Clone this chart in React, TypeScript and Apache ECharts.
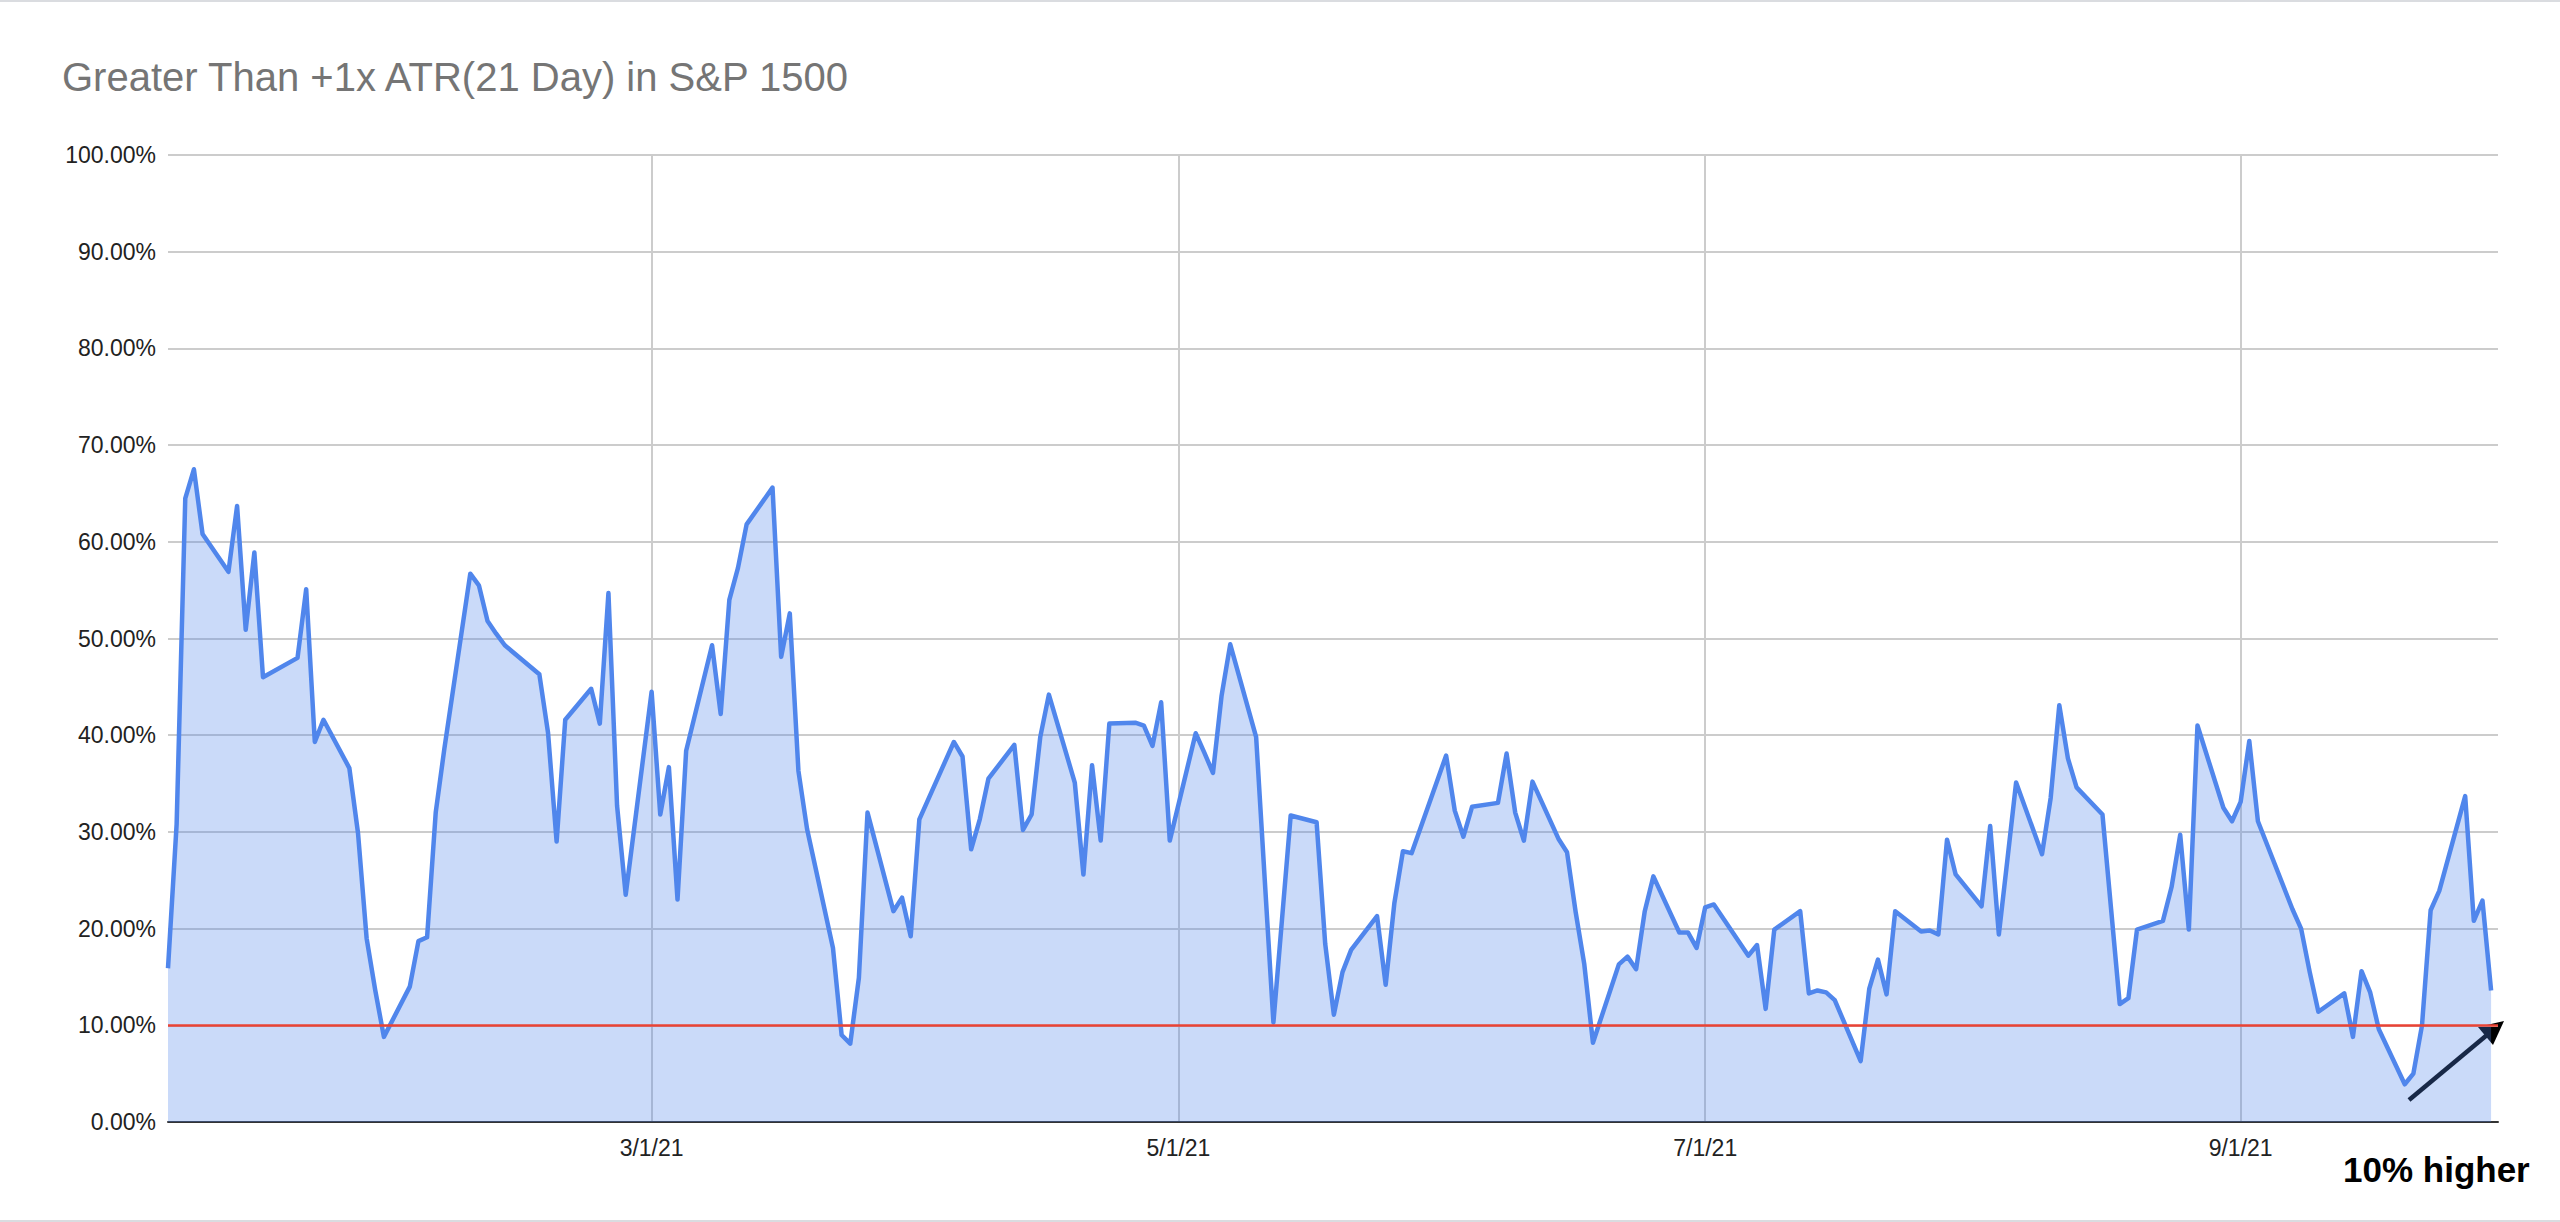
import React, { useEffect, useRef } from 'react';
import * as echarts from 'echarts';

const TITLE = 'Greater Than +1x ATR(21 Day) in S&P 1500';
const ANNOTATION = '10% higher';
const THRESHOLD = 10;

const dates = [
  '2021-01-04','2021-01-05','2021-01-06','2021-01-07','2021-01-08',
  '2021-01-11','2021-01-12','2021-01-13','2021-01-14','2021-01-15',
  '2021-01-19','2021-01-20','2021-01-21','2021-01-22',
  '2021-01-25','2021-01-26','2021-01-27','2021-01-28','2021-01-29',
  '2021-02-01','2021-02-02','2021-02-03','2021-02-04','2021-02-05',
  '2021-02-08','2021-02-09','2021-02-10','2021-02-11','2021-02-12',
  '2021-02-16','2021-02-17','2021-02-18','2021-02-19',
  '2021-02-22','2021-02-23','2021-02-24','2021-02-25','2021-02-26',
  '2021-03-01','2021-03-02','2021-03-03','2021-03-04','2021-03-05',
  '2021-03-08','2021-03-09','2021-03-10','2021-03-11','2021-03-12',
  '2021-03-15','2021-03-16','2021-03-17','2021-03-18','2021-03-19',
  '2021-03-22','2021-03-23','2021-03-24','2021-03-25','2021-03-26',
  '2021-03-29','2021-03-30','2021-03-31','2021-04-01',
  '2021-04-05','2021-04-06','2021-04-07','2021-04-08','2021-04-09',
  '2021-04-12','2021-04-13','2021-04-14','2021-04-15','2021-04-16',
  '2021-04-19','2021-04-20','2021-04-21','2021-04-22','2021-04-23',
  '2021-04-26','2021-04-27','2021-04-28','2021-04-29','2021-04-30',
  '2021-05-03','2021-05-04','2021-05-05','2021-05-06','2021-05-07',
  '2021-05-10','2021-05-11','2021-05-12','2021-05-13','2021-05-14',
  '2021-05-17','2021-05-18','2021-05-19','2021-05-20','2021-05-21',
  '2021-05-24','2021-05-25','2021-05-26','2021-05-27','2021-05-28',
  '2021-06-01','2021-06-02','2021-06-03','2021-06-04',
  '2021-06-07','2021-06-08','2021-06-09','2021-06-10','2021-06-11',
  '2021-06-14','2021-06-15','2021-06-16','2021-06-17','2021-06-18',
  '2021-06-21','2021-06-22','2021-06-23','2021-06-24','2021-06-25',
  '2021-06-28','2021-06-29','2021-06-30','2021-07-01','2021-07-02',
  '2021-07-06','2021-07-07','2021-07-08','2021-07-09',
  '2021-07-12','2021-07-13','2021-07-14','2021-07-15','2021-07-16',
  '2021-07-19','2021-07-20','2021-07-21','2021-07-22','2021-07-23',
  '2021-07-26','2021-07-27','2021-07-28','2021-07-29','2021-07-30',
  '2021-08-02','2021-08-03','2021-08-04','2021-08-05','2021-08-06',
  '2021-08-09','2021-08-10','2021-08-11','2021-08-12','2021-08-13',
  '2021-08-16','2021-08-17','2021-08-18','2021-08-19','2021-08-20',
  '2021-08-23','2021-08-24','2021-08-25','2021-08-26','2021-08-27',
  '2021-08-30','2021-08-31','2021-09-01','2021-09-02','2021-09-03',
  '2021-09-07','2021-09-08','2021-09-09','2021-09-10',
  '2021-09-13','2021-09-14','2021-09-15','2021-09-16','2021-09-17',
  '2021-09-20','2021-09-21','2021-09-22','2021-09-23','2021-09-24',
  '2021-09-27','2021-09-28','2021-09-29','2021-09-30',
];

const values = [
  15.9, 30.8, 64.5, 67.5, 60.8,
  56.9, 63.7, 50.9, 58.9, 46.0,
  48.0, 55.1, 39.3, 41.6,
  36.6, 29.9, 19.0, 13.6, 8.8,
  14.0, 18.7, 19.1, 32.0, 38.6,
  56.7, 55.5, 51.8, 50.5, 49.3,
  46.3, 40.3, 29.0, 41.6,
  44.8, 41.2, 54.7, 32.7, 23.5,
  44.5, 31.8, 36.7, 23.0, 38.4,
  49.3, 42.2, 54.0, 57.3, 61.8,
  65.6, 48.1, 52.6, 36.3, 30.3,
  18.0, 9.0, 8.1, 14.9, 32.0,
  21.8, 23.2, 19.2, 31.3,
  39.3, 37.8, 28.2, 31.3, 35.5,
  39.0, 30.2, 31.8, 39.8, 44.2,
  35.1, 25.6, 36.9, 29.1, 41.2,
  41.3, 41.0, 38.9, 43.4, 29.1,
  40.2, 38.2, 36.1, 44.1, 49.4,
  39.8, 25.0, 10.3, 21.0, 31.7,
  31.0, 18.4, 11.1, 15.5, 17.8,
  21.3, 14.2, 22.6, 28.0, 27.8,
  37.9, 32.2, 29.5, 32.6,
  33.0, 38.1, 32.0, 29.1, 35.2,
  29.3, 27.9, 21.7, 16.3, 8.2,
  16.3, 17.1, 15.8, 21.8, 25.4,
  19.6, 19.6, 18.0, 22.2, 22.5,
  17.2, 18.3, 11.7, 19.9,
  21.8, 13.3, 13.6, 13.4, 12.6,
  6.3, 13.8, 16.8, 13.2, 21.8,
  19.7, 19.8, 19.4, 29.2, 25.6,
  22.3, 30.6, 19.4, 27.2, 35.1,
  27.7, 33.5, 43.1, 37.6, 34.6,
  31.8, 22.0, 12.2, 12.8, 19.9,
  20.8, 24.3, 29.7, 19.9, 41.0,
  32.5, 31.1, 33.1, 39.4, 31.1,
  22.0, 20.0, 15.5, 11.4,
  13.3, 8.8, 15.6, 13.4, 9.6,
  3.9, 5.0, 10.0, 21.9, 23.9,
  33.7, 20.8, 22.9, 13.6,
];

const xTickDates = ['2021-03-01', '2021-05-01', '2021-07-01', '2021-09-01'];
const xTickLabels = ['3/1/21', '5/1/21', '7/1/21', '9/1/21'];
const X_MIN = '2021-01-04';
const X_MAX = '2021-09-30';
const Y_MIN = 0;
const Y_MAX = 100;
const Y_STEP = 10;

function ts(s: string): number {
  const [y, m, d] = s.split('-').map(Number);
  return Date.UTC(y, m - 1, d);
}

const DAY = 86400000;

export default function App() {
  const ref = useRef<HTMLDivElement>(null);

  useEffect(() => {
    if (!ref.current) return;
    const chart = echarts.init(ref.current, undefined, { renderer: 'svg' });
    const tickTs = xTickDates.map(ts);
    const font = '"Liberation Sans", Arial, sans-serif';

    const option: any = {
      animation: false,
      backgroundColor: '#ffffff',
      title: {
        text: TITLE,
        left: 62,
        top: 57,
        padding: 0,
        textStyle: {
          fontFamily: font,
          fontSize: 40,
          fontWeight: 'normal',
          color: '#757575',
        },
      },
      grid: {
        left: 168,
        right: 62,
        top: 155,
        bottom: 100,
        outerBoundsMode: 'none',
      },
      xAxis: {
        type: 'value',
        min: ts(X_MIN),
        max: ts(X_MAX) + 0.8 * DAY,
        axisLine: { show: true, lineStyle: { color: '#333333', width: 2 } },
        axisTick: { show: false, customValues: tickTs },
        splitLine: { show: true, lineStyle: { color: '#cccccc', width: 2 } },
        axisLabel: {
          customValues: tickTs,
          formatter: (v: number) => {
            const i = tickTs.indexOf(v);
            return i >= 0 ? xTickLabels[i] : '';
          },
          fontFamily: font,
          fontSize: 23,
          color: '#222222',
          margin: 14,
        },
      },
      yAxis: {
        type: 'value',
        min: Y_MIN,
        max: Y_MAX,
        interval: Y_STEP,
        axisLine: { show: false },
        axisTick: { show: false },
        splitLine: { show: true, lineStyle: { color: '#cccccc', width: 2 } },
        axisLabel: {
          formatter: (v: number) => v.toFixed(2) + '%',
          fontFamily: font,
          fontSize: 23,
          color: '#222222',
          margin: 12,
        },
      },
      series: [
        {
          type: 'line',
          data: dates.map((d, i) => [ts(d), values[i]]),
          symbol: 'none',
          lineStyle: { color: '#5086ec', width: 4.5, join: 'round' },
          itemStyle: { color: '#5086ec' },
          areaStyle: { color: '#5086ec', opacity: 0.3 },
          markLine: {
            silent: true,
            symbol: ['none', 'none'],
            label: { show: false },
            lineStyle: { color: '#ea4335', width: 2.5, type: 'solid' },
            data: [{ yAxis: THRESHOLD }],
          },
        },
      ],
      graphic: [
        { type: 'rect', left: 0, top: 0, shape: { width: 2560, height: 2 }, style: { fill: '#dadce0' } },
        { type: 'rect', left: 0, top: 1220, shape: { width: 2560, height: 2 }, style: { fill: '#dadce0' } },
        {
          type: 'text',
          x: 2343,
          y: 1169,
          style: {
            text: ANNOTATION,
            fontFamily: font,
            fontSize: 35,
            fontWeight: 'bold',
            fill: '#000000',
            verticalAlign: 'middle',
          },
        },
        {
          type: 'line',
          shape: { x1: 2409, y1: 1100, x2: 2487, y2: 1035 },
          style: { stroke: '#000000', lineWidth: 4.5 },
        },
        {
          type: 'polygon',
          shape: { points: [[2504, 1021], [2493, 1045], [2478, 1027]] },
          style: { fill: '#000000' },
        },
      ],
    };

    chart.setOption(option);
    return () => chart.dispose();
  }, []);

  return (
    <div
      ref={ref}
      style={{ position: 'fixed', left: 0, top: 0, width: 2560, height: 1222, background: '#fff' }}
    />
  );
}
